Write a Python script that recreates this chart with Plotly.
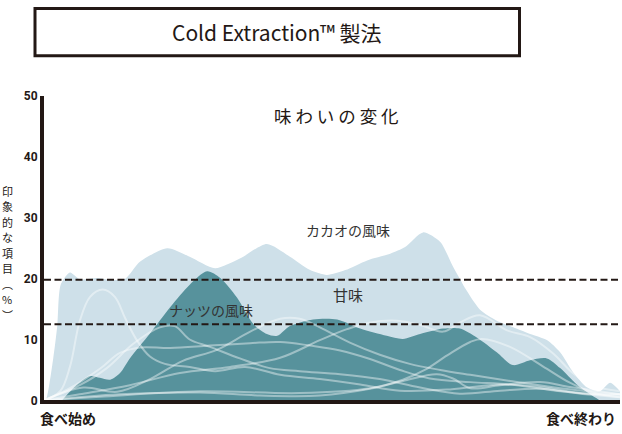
import plotly.graph_objects as go

# ---- data (x: 0 = 食べ始め, 100 = 食べ終わり ; y: 印象的な項目 %) ----
cacao_x = [0, 0.3, 1.6, 2.3, 2.9, 4.5, 6.2, 9.2, 11.5, 14.1, 16.7, 21.4, 25.3, 29.7, 34.0,
           38.7, 42.7, 46.2, 49.1, 52.3, 56.1, 60.1, 62.7, 65.8, 68.8, 71.0, 73.4, 75.7, 78.6,
           80.9, 84.4, 87.3, 89.6, 91.8, 94.3, 96.5, 98.3, 100]
cacao_y = [0, 0, 6.9, 12.2, 19.0, 21.0, 19.9, 20.1, 19.8, 20.0, 22.8, 25.0, 23.6, 21.7, 23.3,
           25.7, 23.6, 21.4, 20.6, 21.4, 23.0, 24.1, 25.2, 27.6, 26.0, 22.0, 18.0, 14.9, 13.1,
           12.2, 10.9, 9.9, 7.9, 4.7, 2.1, 1.5, 2.9, 1.5]

nuts_x = [3.1, 5.4, 8.0, 9.7, 11.5, 13.2, 14.9, 18.4, 21.9, 25.3, 28.3, 30.6, 33.5, 36.3, 38.7,
          40.5, 42.7, 46.7, 50.9, 54.9, 59.5, 62.3, 65.3, 69.3, 72.2, 75.2, 78.6, 81.4, 84.4,
          87.3, 89.6, 92.5, 94.8, 96.5]
nuts_y = [0, 2.3, 4.0, 3.7, 3.4, 4.5, 6.9, 11.0, 15.3, 19.0, 21.2, 20.1, 16.9, 12.6, 10.9,
          10.6, 12.2, 13.3, 13.3, 11.8, 10.6, 10.1, 10.9, 11.8, 11.8, 10.3, 7.9, 5.8, 6.6,
          6.9, 5.3, 2.6, 1.0, 0]

line1_x = [0, 2.8, 4.5, 6.2, 8.0, 10.2, 12.3, 14.1, 16.1, 18.4, 21.0, 25.3, 29.7, 34.9, 41.0,
           47.9, 54.9, 61.8, 70.5, 79.2, 86.1, 93.1, 100]
line1_y = [0, 1.5, 5.5, 13.0, 17.0, 18.2, 17.0, 13.5, 9.9, 7.2, 6.0, 5.5, 4.8, 5.5, 4.2,
           3.5, 2.6, 1.6, 1.8, 2.6, 2.2, 1.2, 0.8]

line2_x = [0, 4.5, 9.7, 13.2, 16.7, 21.9, 28.8, 35.8, 41.0, 46.2, 51.4, 56.6, 61.8, 67.0,
           74.0, 80.9, 89.6, 96.5, 100]
line2_y = [0, 2.0, 5.2, 7.8, 8.7, 8.6, 9.0, 9.4, 9.6, 9.0, 8.2, 6.8, 5.0, 3.6,
           3.0, 2.6, 1.5, 1.0, 1.0]

line3_x = [0, 6.2, 10.9, 15.5, 20.1, 22.7, 25.3, 28.8, 34.0, 39.2, 44.4, 51.4, 58.3, 65.3,
           72.2, 79.2, 86.1, 93.1, 100]
line3_y = [0, 2.5, 5.3, 9.3, 12.0, 12.2, 10.0, 8.8, 6.9, 5.3, 4.8, 4.3, 3.5, 2.1,
           1.1, 1.6, 1.9, 1.1, 0.5]

line4_x = [0, 6.8, 12.7, 18.4, 24.1, 30.0, 35.8, 41.0, 44.4, 47.9, 53.1, 58.3, 63.5, 68.8,
           74.0, 80.9, 89.6, 100]
line4_y = [0, 2.1, 1.4, 3.5, 6.5, 8.3, 11.3, 13.4, 13.4, 12.0, 9.5, 7.5, 6.0, 5.0,
           4.2, 3.2, 2.0, 1.0]

line5_x = [0, 6.2, 14.9, 23.6, 32.3, 41.0, 47.9, 52.6, 56.6, 61.3, 65.3, 69.3, 72.2, 75.7,
           80.4, 84.4, 88.4, 91.8, 95.3, 100]
line5_y = [0, 1.0, 2.5, 4.5, 5.5, 7.0, 9.9, 11.7, 12.8, 13.1, 12.4, 11.3, 12.8, 14.0,
           11.5, 10.4, 7.7, 4.5, 2.4, 1.5]

line6_x = [0, 9.7, 27.1, 44.4, 56.6, 62.3, 66.1, 70.0, 74.0, 76.0, 80.9, 86.6, 91.3, 95.3, 100]
line6_y = [0, 0.6, 1.5, 1.2, 2.0, 3.4, 5.0, 7.4, 9.6, 10.1, 8.8, 5.6, 2.9, 1.3, 0.5]

line7_x = [0, 13.2, 27.1, 37.5, 47.9, 56.6, 62.3, 68.2, 71.0, 74.0, 79.2, 86.1, 91.3, 96.5, 100]
line7_y = [0, 1.0, 1.3, 0.8, 0.8, 1.9, 3.2, 4.3, 3.6, 2.0, 2.5, 3.0, 2.2, 1.5, 1.0]

thresholds = [19.8, 12.5]
y_ticks = [0, 10, 20, 30, 40, 50]
y_title_chars = ["印", "象", "的", "な", "項", "目", "︵", "%", "︶"]

INK = "#231815"
LIGHT = "#cee0e9"
DARK = "#57929c"
JP = "Noto Sans CJK JP"

fig = go.Figure()

fig.add_trace(go.Scatter(x=cacao_x, y=cacao_y, mode="lines", fill="tozeroy",
                         fillcolor=LIGHT, line=dict(width=0, shape="spline", smoothing=0.7,
                                                    color=LIGHT), hoverinfo="skip"))
fig.add_trace(go.Scatter(x=nuts_x, y=nuts_y, mode="lines", fill="tozeroy",
                         fillcolor=DARK, line=dict(width=0, shape="spline", smoothing=0.8,
                                                   color=DARK), hoverinfo="skip"))

for lx, ly in [(line1_x, line1_y), (line2_x, line2_y), (line3_x, line3_y), (line4_x, line4_y),
               (line5_x, line5_y), (line6_x, line6_y), (line7_x, line7_y)]:
    fig.add_trace(go.Scatter(x=lx, y=ly, mode="lines",
                             line=dict(width=2, shape="spline", smoothing=1.0,
                                       color="rgba(255,255,255,0.42)"), hoverinfo="skip"))

for t in thresholds:
    fig.add_trace(go.Scatter(x=[0, 100], y=[t, t], mode="lines",
                             line=dict(width=2, color=INK, dash="7px,3.5px"), hoverinfo="skip"))

W, H = 622, 434
def px(v):
    return v / W
def py(v):
    return 1 - v / H

fig.update_layout(
    width=W, height=H, margin=dict(l=0, r=0, t=0, b=0),
    paper_bgcolor="white", plot_bgcolor="rgba(0,0,0,0)", showlegend=False,
    xaxis=dict(domain=[px(44), px(620)], range=[0, 100], showgrid=False, zeroline=False,
               showticklabels=False, showline=True, linewidth=4, linecolor=INK, ticks=""),
    yaxis=dict(domain=[py(406.5), py(92)], range=[0, 50], showgrid=False, zeroline=False,
               tickvals=y_ticks, ticktext=[str(v) for v in y_ticks], ticks="",
               showline=True, linewidth=4, linecolor=INK,
               tickfont=dict(family="Roboto", size=12, color=INK, weight="bold")),
)

def note(x, y, text, size, color=INK, xanchor="center", yanchor="middle", data=False):
    fig.add_annotation(x=x, y=y, xref="x" if data else "paper", yref="y" if data else "paper",
                       text=text, showarrow=False, xanchor=xanchor, yanchor=yanchor,
                       borderpad=0,
                       font=dict(family=JP, size=size, color=color))

# title box
fig.add_shape(type="rect", xref="paper", yref="paper", x0=px(35), x1=px(519.5),
              y0=py(50.5), y1=py(1.5), line=dict(color=INK, width=3), fillcolor="white")
note(px(277), py(26), "Cold Extraction™ 製法", 21)

# inner labels (data coordinates)
note(50.8, 46.8, "味 わ い の 変 化", 17.5, data=True)
note(52.7, 28.0, "カカオの風味", 14, color="#333333", data=True)
note(52.7, 17.4, "甘味", 15, color="#333333", data=True)
note(29.0, 14.8, "ナッツの風味", 14, color="#333333", data=True)

# axis end labels
note(px(39), py(425), "<b>食べ始め</b>", 14, xanchor="left")
note(px(617), py(425), "<b>食べ終わり</b>", 14, xanchor="right")

# vertical y-axis title, one character per row
rows = [190, 206, 222, 238, 254, 270, 286, 302, 318]
for ch, r in zip(y_title_chars, rows):
    note(px(7), py(r), ch, 11)

fig.write_html("out.html", post_script="document.body.style.margin='0';",
               config={"displayModeBar": False})
